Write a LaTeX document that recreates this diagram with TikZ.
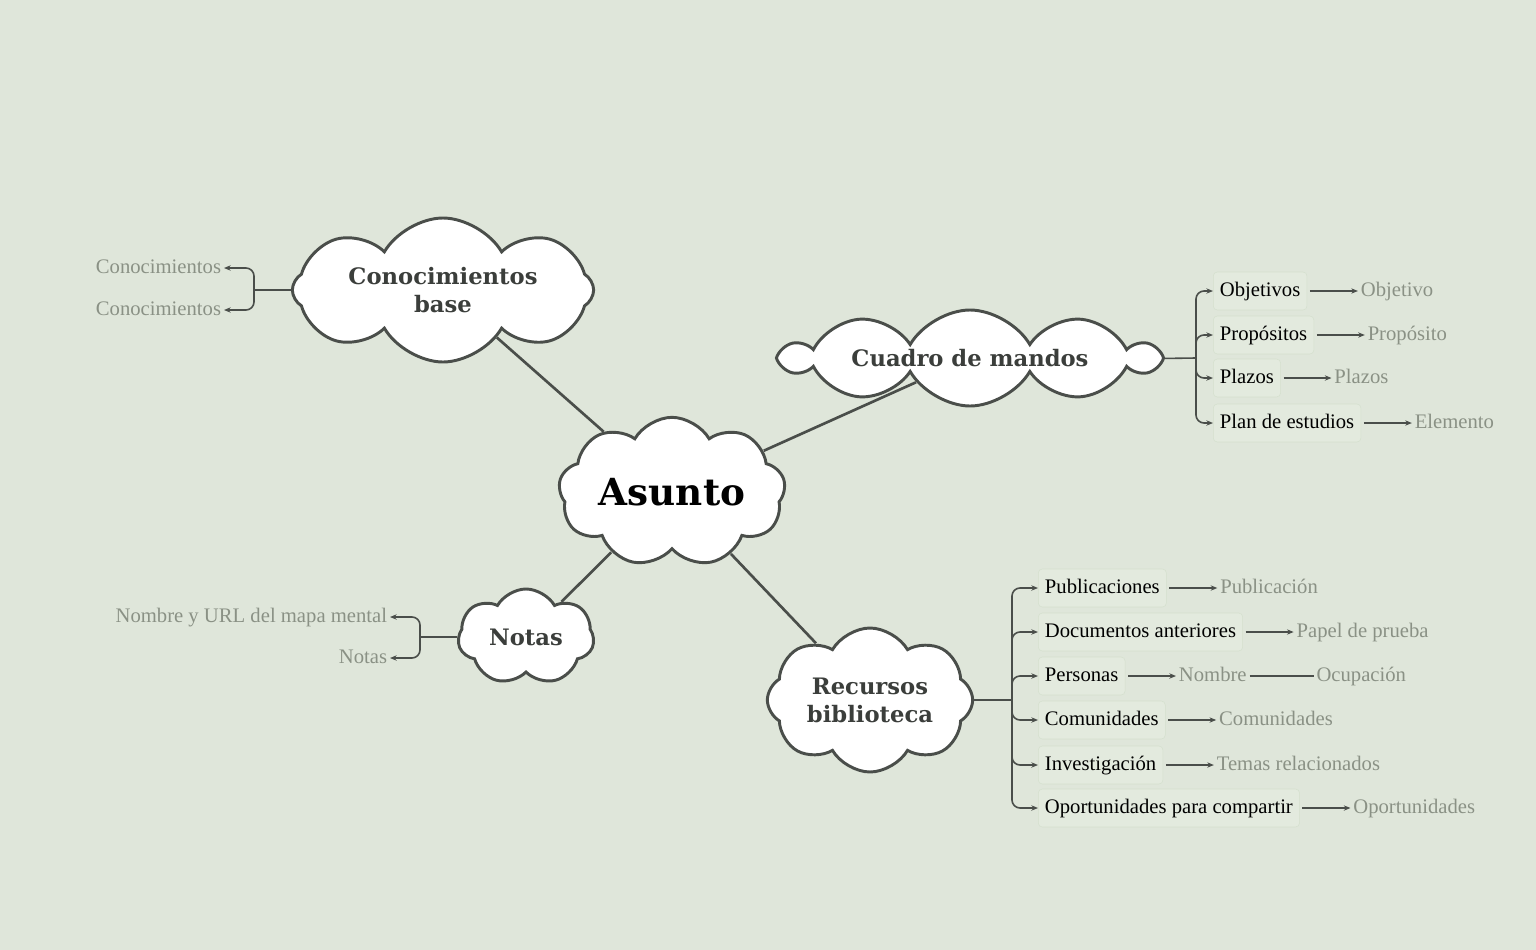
\documentclass[tikz,border=0pt]{standalone}
\usepackage{fontspec}
\setmainfont{Liberation Serif}
\newfontfamily\titlefont{DejaVu Serif}
\usetikzlibrary{shapes.symbols,arrows.meta}
\definecolor{bg}{HTML}{DFE6DA}
\definecolor{ln}{HTML}{4A4E4A}
\definecolor{gry}{HTML}{8A9185}
\definecolor{boxf}{HTML}{E3EADE}
\definecolor{boxd}{HTML}{D5E0CE}
\begin{document}
\begin{tikzpicture}[x=0.75pt,y=-0.75pt,
  cl/.style={cloud,cloud ignores aspect,cloud puffs=8,cloud puff arc=120,draw=ln,line width=2.2pt,fill=white,inner sep=0pt,align=center,font=\titlefont\bfseries\fontsize{17}{21}\selectfont,text=ln!80!black},
  item/.style={draw=boxd,fill=boxf,rounded corners=3pt,anchor=west,inner xsep=5pt,inner ysep=7pt,text height=11pt,text depth=3.5pt,font=\fontsize{15.5}{17}\selectfont,text=black},
  sub/.style={anchor=west,inner sep=2pt,text height=11pt,text depth=3.5pt,font=\fontsize{15.5}{17}\selectfont,text=gry},
  br/.style={draw=ln,line width=1.2pt,rounded corners=6pt},
  arr/.style={draw=ln,line width=1.2pt,-{Stealth[length=5pt,width=4pt]}},
  main/.style={draw=ln,line width=2pt}]
\fill[bg] (0,0) rectangle (1536,950);
\useasboundingbox (0,0) rectangle (1536,950);
\node[cl,minimum width=170pt,minimum height=112pt,cloud puffs=9,font=\titlefont\bfseries\fontsize{28}{30}\selectfont,text=black] (asunto) at (672,492) {Asunto};
\node[cl,minimum width=226pt,minimum height=108pt] (con) at (443,290) {Conocimientos\\base};
\node[cl,minimum width=280pt,minimum height=72pt,cloud puffs=10] (cua) at (970,358) {Cuadro de mandos};
\node[cl,minimum width=102pt,minimum height=72pt,cloud puffs=7] (not) at (526,637) {Notas};
\node[cl,minimum width=154pt,minimum height=108pt] (rec) at (870,700) {Recursos\\biblioteca};
\draw[main] (asunto) -- (con);
\draw[main] (asunto) -- (cua);
\draw[main] (asunto) -- (not);
\draw[main] (asunto) -- (rec);
% left
\node[sub,anchor=east] (c1) at (224,268) {Conocimientos};
\node[sub,anchor=east] (c2) at (224,310) {Conocimientos};
\coordinate (cb) at (254,290);
\draw[br] (con.west) -- (cb);
\draw[arr,rounded corners=6pt] (cb) |- (c1.east);
\draw[arr,rounded corners=6pt] (cb) |- (c2.east);
\node[sub,anchor=east] (n1) at (390,617) {Nombre y URL del mapa mental};
\node[sub,anchor=east] (n2) at (390,658) {Notas};
\coordinate (nb) at (420,637);
\draw[br] (not.west) -- (nb);
\draw[arr,rounded corners=6pt] (nb) |- (n1.east);
\draw[arr,rounded corners=6pt] (nb) |- (n2.east);
% cuadro
\coordinate (qb) at (1196,358);
\draw[br] (cua.east) -- (qb);
\foreach \n/\y/\t/\s in {q1/291/Objetivos/Objetivo,q2/335/Propósitos/Propósito,q3/378/Plazos/Plazos,q4/423/Plan de estudios/Elemento}{
  \node[item] (\n) at (1213,\y) {\t};
  \node[sub] (\n s) at ([xshift=38pt]\n.east) {\s};
  \draw[arr,rounded corners=6pt] (qb) |- (\n.west);
  \draw[arr] ([xshift=2pt]\n.east) -- (\n s.west);
}
% recursos
\coordinate (rb) at (1012,700);
\draw[br] (rec.east) -- (rb);
\foreach \n/\y/\t/\s in {r1/588/Publicaciones/Publicación,r2/632/Documentos anteriores/Papel de prueba,r3/676/Personas/Nombre,r4/720/Comunidades/Comunidades,r5/765/Investigación/Temas relacionados,r6/808/Oportunidades para compartir/Oportunidades}{
  \node[item] (\n) at (1038,\y) {\t};
  \node[sub] (\n s) at ([xshift=38pt]\n.east) {\s};
  \draw[arr,rounded corners=6pt] (rb) |- (\n.west);
  \draw[arr] ([xshift=2pt]\n.east) -- (\n s.west);
}
\node[sub] (ocu) at ([xshift=48pt]r3s.east) {Ocupación};
\draw[br] (r3s.east) -- (ocu.west);
\end{tikzpicture}
\end{document}
